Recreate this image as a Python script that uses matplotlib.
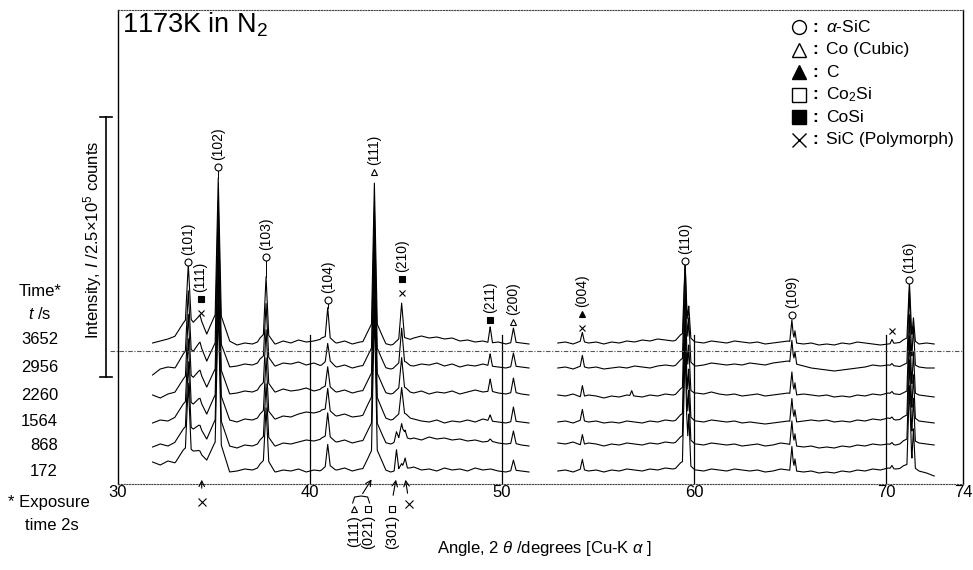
import numpy as np
import matplotlib
matplotlib.use('Agg')
import matplotlib.pyplot as plt

plt.rcParams['font.family'] = ['Liberation Sans', 'DejaVu Sans']
plt.rcParams['mathtext.fontset'] = 'custom'
plt.rcParams['mathtext.rm'] = 'Liberation Sans'
plt.rcParams['mathtext.it'] = 'Liberation Sans:italic'

# ---- data (intensity in arbitrary units, bar of 260 = 2.5x10^5 counts) ----
TIMES = [172, 868, 1564, 2260, 2956, 3652]

# two scans, 2theta from start in 0.4 deg steps
LOW_START, HIGH_START, STEP = 31.8, 52.9, 0.4

BG_LOW = [
    [22, 19, 23, 21, 24, 22, 25, 24, 22, 18, 12, 13, 15, 14, 17, 16, 12, 14, 13, 15, 12, 14, 13, 15, 14,
     16, 13, 15, 16, 18, 15, 12, 14, 15, 17, 14, 15, 13, 16, 14, 15, 13, 16, 14, 15, 13, 12, 14, 13, 12],
    [37, 40, 38, 42, 45, 44, 47, 45, 44, 42, 38, 36, 39, 38, 41, 40, 38, 41, 40, 42, 44, 43, 45, 44, 42,
     44, 41, 43, 44, 45, 42, 40, 43, 44, 46, 44, 47, 45, 46, 44, 45, 43, 44, 42, 43, 41, 40, 41, 39, 38],
    [61, 64, 63, 67, 70, 69, 72, 70, 69, 67, 64, 62, 65, 64, 67, 66, 65, 68, 67, 70, 72, 71, 73, 70, 68,
     70, 67, 68, 70, 71, 67, 64, 66, 67, 65, 63, 62, 64, 61, 63, 62, 64, 62, 65, 63, 62, 61, 63, 62, 61],
    [89, 86, 90, 92, 95, 96, 98, 97, 95, 93, 90, 91, 93, 92, 95, 94, 92, 95, 93, 94, 96, 93, 95, 94, 92,
     94, 91, 93, 94, 95, 92, 90, 92, 93, 91, 93, 90, 92, 91, 93, 90, 92, 94, 92, 93, 91, 90, 92, 90, 89],
    [109, 115, 117, 116, 120, 122, 124, 123, 121, 119, 117, 118, 120, 119, 122, 120, 118, 121, 120, 122,
     119, 121, 118, 120, 117, 119, 116, 118, 119, 120, 117, 115, 117, 119, 118, 120, 119, 121, 118, 120,
     117, 119, 118, 120, 118, 117, 116, 118, 117, 116],
    [141, 143, 145, 148, 151, 152, 151, 150, 149, 147, 143, 139, 141, 140, 143, 142, 140, 143, 141, 144,
     142, 143, 145, 143, 141, 143, 140, 142, 143, 144, 141, 139, 141, 143, 146, 148, 146, 147, 145, 146,
     143, 144, 142, 143, 141, 142, 140, 142, 141, 140],
]

BG_HIGH = [
    [13, 14, 12, 15, 13, 14, 12, 14, 13, 15, 14, 13, 15, 14, 16, 15, 17, 15, 14, 13, 15, 14, 13, 15, 14,
     13, 14, 12, 13, 15, 14, 13, 12, 13, 11, 12, 11, 13, 12, 14, 13, 15, 14, 16, 15, 16, 14, 13, 11, 8],
    [41, 40, 42, 39, 41, 40, 38, 40, 39, 41, 40, 39, 41, 40, 42, 41, 43, 41, 40, 39, 41, 40, 39, 40, 38,
     39, 40, 38, 39, 41, 40, 38, 37, 38, 36, 37, 36, 38, 37, 39, 38, 40, 39, 40, 39, 41, 40, 41, 40, 39],
    [62, 63, 61, 64, 62, 63, 61, 62, 61, 63, 62, 61, 63, 62, 64, 63, 65, 64, 63, 62, 64, 63, 62, 63, 61,
     62, 61, 60, 61, 62, 63, 62, 63, 64, 63, 64, 62, 63, 62, 64, 63, 65, 64, 66, 64, 65, 64, 63, 62, 61],
    [89, 88, 90, 87, 89, 88, 86, 88, 87, 89, 88, 87, 89, 88, 90, 89, 91, 90, 91, 90, 92, 90, 89, 90, 88,
     89, 90, 88, 89, 90, 91, 89, 90, 89, 88, 89, 87, 88, 87, 89, 88, 90, 89, 91, 90, 89, 88, 89, 88, 87],
    [116, 117, 115, 118, 116, 117, 115, 116, 117, 116, 118, 117, 116, 118, 119, 118, 120, 119, 118, 119,
     121, 120, 119, 120, 119, 121, 120, 119, 121, 122, 123, 120, 118, 116, 115, 114, 113, 114, 115, 116,
     117, 119, 118, 119, 118, 117, 116, 117, 116, 116],
    [141, 142, 140, 143, 141, 142, 140, 142, 141, 143, 142, 144, 143, 145, 144, 143, 145, 143, 142, 141,
     143, 142, 141, 143, 142, 141, 142, 140, 141, 142, 143, 141, 140, 141, 139, 140, 139, 141, 140, 142,
     141, 140, 139, 140, 141, 142, 141, 140, 141, 140],
]

# peaks: centre (deg), half base width (deg), height for each time
PEAK_POS = [33.66, 33.66, 34.27, 35.22, 35.22, 37.71, 37.71, 40.92, 40.92, 43.35, 43.35, 44.50,
            44.77, 44.77, 44.95, 49.38, 50.59,
            54.18, 56.75, 59.53, 59.53, 59.72, 65.09, 65.25, 70.30, 71.21, 71.42, 71.21]
PEAK_HW = [0.15, 0.70, 0.35, 0.16, 0.60, 0.14, 0.45, 0.13, 0.40, 0.15, 0.60, 0.12,
           0.15, 0.45, 0.12, 0.12, 0.14,
           0.11, 0.10, 0.14, 0.50, 0.11, 0.11, 0.09, 0.10, 0.13, 0.10, 0.50]
PEAK_H = [
    [62, 62, 60, 58, 56, 52],
    [16, 16, 16, 16, 16, 16],
    [6, 10, 12, 14, 16, 16],
    [130, 130, 132, 133, 135, 130],
    [28, 28, 28, 28, 28, 28],
    [50, 50, 50, 50, 50, 55],
    [10, 10, 10, 10, 10, 10],
    [20, 22, 20, 18, 16, 28],
    [5, 5, 5, 5, 5, 5],
    [135, 135, 135, 135, 135, 135],
    [22, 22, 22, 22, 22, 22],
    [20, 8, 0, 0, 0, 0],
    [4, 12, 24, 28, 32, 33],
    [2, 5, 6, 6, 6, 6],
    [10, 7, 0, 0, 0, 0],
    [0, 2, 6, 12, 12, 16],
    [10, 12, 14, 14, 13, 14],
    [10, 10, 11, 11, 11, 9],
    [0, 0, 0, 5, 0, 0],
    [112, 108, 104, 100, 96, 70],
    [8, 8, 8, 8, 8, 8],
    [50, 48, 46, 44, 42, 30],
    [24, 24, 23, 22, 22, 22],
    [12, 12, 12, 12, 12, 12],
    [3, 2, 2, 2, 2, 4],
    [78, 78, 78, 75, 72, 55],
    [38, 42, 42, 40, 38, 22],
    [6, 6, 6, 6, 6, 6],
]

# peak labels: (2theta, phases from bottom up, index)
PEAK_LABELS = [
    (33.66, ['aSiC'], '(101)'),
    (34.30, ['X', 'CoSi'], '(111)'),
    (35.22, ['aSiC'], '(102)'),
    (37.71, ['aSiC'], '(103)'),
    (40.92, ['aSiC'], '(104)'),
    (43.35, ['Co'], '(111)'),
    (44.77, ['X', 'CoSi'], '(210)'),
    (49.38, ['CoSi'], '(211)'),
    (50.59, ['Co'], '(200)'),
    (54.18, ['X', 'C'], '(004)'),
    (59.53, ['aSiC'], '(110)'),
    (65.09, ['aSiC'], '(109)'),
    (70.30, ['X'], ''),
    (71.21, ['aSiC'], '(116)'),
]
LABEL_Y = [222, 171, 317, 227, 184, 312, 191, 164, 162, 156, 223, 169, 153, 204]

# reflections marked under the axis
BELOW_LABELS = [(42.30, 'Co', '(111)'), (43.02, 'Co2Si', '(021)'), (44.25, 'Co2Si', '(301)')]

PHASES = ['aSiC', 'Co', 'C', 'Co2Si', 'CoSi', 'X']
PHASE_NAMES = [r'$\alpha$-SiC', 'Co (Cubic)', 'C', r'Co$_2$Si', 'CoSi', 'SiC (Polymorph)']
SYMBOL = {
    'aSiC': dict(marker='o', mfc='white'),
    'Co': dict(marker='^', mfc='white'),
    'C': dict(marker='^', mfc='black'),
    'Co2Si': dict(marker='s', mfc='white'),
    'CoSi': dict(marker='s', mfc='black'),
    'X': dict(marker='x', mfc='black'),
}


def spectrum(start, bg, k):
    xk = start + STEP * np.arange(len(bg))
    lo, hi = xk[0], xk[-1]
    pts = list(xk)
    for p, w, h in zip(PEAK_POS, PEAK_HW, PEAK_H):
        if lo < p < hi and h[k] > 0:
            pts += [p - w, p, p + w]
    xs = np.unique(np.clip(pts, lo, hi))
    ys = np.interp(xs, xk, np.array(bg, dtype=float))
    for p, w, h in zip(PEAK_POS, PEAK_HW, PEAK_H):
        if lo < p < hi:
            ys += h[k] * np.clip(1 - np.abs(xs - p) / w, 0, None)
    return xs, ys


def fx(px):
    return px / 973.0


def fy(py):
    return 1 - py / 570.0


fig = plt.figure(figsize=(9.73, 5.70), dpi=100)
ax = fig.add_axes([fx(118), 86 / 570, 845 / 973, 474 / 570])
ax.set_xlim(30, 74)
ax.set_ylim(0, 474)

tops = {}
for k in range(len(TIMES)):
    for start, bgs in ((LOW_START, BG_LOW), (HIGH_START, BG_HIGH)):
        xs, ys = spectrum(start, bgs[k], k)
        ax.plot(xs, ys, color='black', lw=0.8)
        if k == len(TIMES) - 1:
            for pos, _, _ in PEAK_LABELS:
                m = np.abs(xs - pos) < 0.05
                if m.any():
                    tops[pos] = ys[m].max()

# labels on peaks
for (pos, syms, txt), ys0 in zip(PEAK_LABELS, LABEL_Y):
    if pos in tops and tops[pos] < ys0 - 5 and syms[0] == 'aSiC':
        ax.plot([pos, pos], [tops[pos], ys0 - 4], color='black', lw=0.7)
    y = ys0
    for s in syms:
        ax.plot(pos, y, ls='none', color='black', ms=5, mew=0.8, **SYMBOL[s])
        y += 14
    if txt:
        ax.text(pos, y - 7, txt, rotation=90, ha='center', va='bottom', fontsize=10)

# frame
for side in ('top', 'bottom'):
    ax.spines[side].set_linestyle((0, (1, 1.5)))
    ax.spines[side].set_linewidth(0.8)
    ax.spines[side].set_color('#444444')
for side in ('left', 'right'):
    ax.spines[side].set_linewidth(1.0)
ax.set_yticks([])
ax.set_xticks([30, 40, 50, 60, 70, 74])
ax.tick_params(axis='x', length=0, pad=1, labelsize=12)
for v in (40, 50, 60, 70):
    ax.plot([v, v], [0, 149], color='black', lw=0.9)
ax.plot([-0.01, 1.0], [133, 133], transform=ax.get_yaxis_transform(), clip_on=False,
        color='#555555', lw=0.8, ls=(0, (4, 1.5, 1, 1.5)))

ax.text(0.005, 0.968, r'1173K in N$_2$', transform=ax.transAxes, fontsize=19.5, va='center', ha='left')

# legend
leg_y = [0.964, 0.916, 0.869, 0.821, 0.774, 0.726]
for ph, name, ly in zip(PHASES, PHASE_NAMES, leg_y):
    ax.plot(0.806, ly, transform=ax.transAxes, ls='none', color='black', ms=10, mew=1.0,
            clip_on=False, **SYMBOL[ph])
    ax.text(0.822, ly, ':', transform=ax.transAxes, fontsize=12.5, va='center', ha='left', fontweight='bold')
    ax.text(0.838, ly, name, transform=ax.transAxes, fontsize=12.5, va='center', ha='left')

# annotations below the axis
arrow = dict(arrowstyle='->', lw=0.8, color='black')
ax.annotate('', xy=(34.36, 7), xytext=(34.36, -7), annotation_clip=False, arrowprops=arrow)
ax.plot(34.36, -18, ls='none', color='black', ms=6, mew=0.8, clip_on=False, **SYMBOL['X'])
ax.annotate('', xy=(43.28, 7), xytext=(42.66, -12), annotation_clip=False, arrowprops=arrow)
bx = np.array([42.22, 42.32, 42.66, 43.0, 43.1])
by = np.array([-19, -13, -12, -13, -19])
ax.plot(bx, by, color='black', lw=0.8, clip_on=False)
ax.annotate('', xy=(44.5, 7), xytext=(44.3, -14), annotation_clip=False, arrowprops=arrow)
ax.annotate('', xy=(44.95, 7), xytext=(45.1, -12), annotation_clip=False, arrowprops=arrow)
ax.plot(45.15, -20, ls='none', color='black', ms=6, mew=0.8, clip_on=False, **SYMBOL['X'])
for pos, ph, txt in BELOW_LABELS:
    ax.plot(pos, -25, ls='none', color='black', ms=5, mew=0.8, clip_on=False, **SYMBOL[ph])
    ax.text(pos, -31, txt, rotation=90, ha='center', va='top', fontsize=10.5, clip_on=False)

# left side texts
fig.text(fx(40), fy(292), 'Time*', ha='center', va='center', fontsize=12)
fig.text(fx(40), fy(314), r'$t$ /s', ha='center', va='center', fontsize=12)
for t, py in zip(TIMES, [471, 446, 421, 396, 368, 340]):
    fig.text(fx(58), fy(py), str(t), ha='right', va='center', fontsize=12)
fig.text(fx(8), fy(502), '* Exposure', ha='left', va='center', fontsize=12)
fig.text(fx(25), fy(525), 'time 2s', ha='left', va='center', fontsize=12)

# intensity scale bar
bar_x = -0.0142
ax.plot([bar_x, bar_x], [107, 367], transform=ax.get_yaxis_transform(), clip_on=False, color='black', lw=1.2)
for yb in (107, 367):
    ax.plot([bar_x - 0.007, bar_x + 0.007], [yb, yb], transform=ax.get_yaxis_transform(),
            clip_on=False, color='black', lw=1.2)
ax.text(-0.0296, 244, r'Intensity, $I$ /2.5$\times$10$^5$ counts', transform=ax.get_yaxis_transform(),
        rotation=90, ha='center', va='center', fontsize=12)

fig.text(fx(545), fy(549), r'Angle, 2 $\theta$ /degrees [Cu-K $\alpha$ ]', ha='center', va='center',
         fontsize=12)

fig.savefig('out.png', dpi=100)
